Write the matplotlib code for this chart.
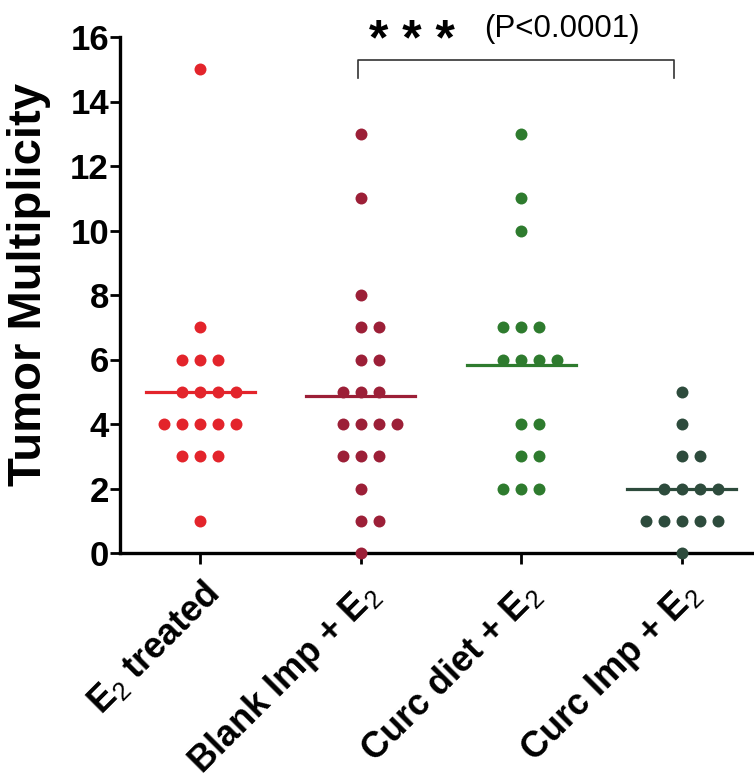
import numpy as np
import matplotlib.pyplot as plt
import matplotlib.transforms as mtransforms

plt.rcParams['font.family'] = ['Liberation Sans', 'DejaVu Sans']
plt.rcParams['mathtext.fontset'] = 'custom'
plt.rcParams['mathtext.rm'] = 'Liberation Sans'
plt.rcParams['mathtext.it'] = 'Liberation Sans'
plt.rcParams['mathtext.default'] = 'rm'

# data (tumors per animal)
GROUPS = ["E$_2$ treated", "Blank Imp + E$_2$", "Curc diet + E$_2$", "Curc Imp + E$_2$"]
e2_treated = [15, 7, 6, 6, 6, 5, 5, 5, 5, 4, 4, 4, 4, 4, 3, 3, 3, 1]
blank_imp = [13, 11, 8, 7, 7, 6, 6, 5, 5, 5, 4, 4, 4, 4, 3, 3, 3, 2, 1, 1, 0]
curc_diet = [13, 11, 10, 7, 7, 7, 6, 6, 6, 6, 4, 4, 3, 3, 2, 2, 2]
curc_imp = [5, 4, 3, 3, 2, 2, 2, 2, 1, 1, 1, 1, 1, 0]
COLORS = ["#e3242b", "#9c1f37", "#2e7b2e", "#2d4b3c"]

P_TEXT = "(P<0.0001)"

fig = plt.figure(figsize=(7.54, 7.81), dpi=100)
ax = fig.add_axes([120 / 754, 228 / 781, 642 / 754, 516 / 781])

spacing = 0.112
for i, (vals, col) in enumerate(zip([e2_treated, blank_imp, curc_diet, curc_imp], COLORS)):
    vals = np.array(vals)
    for v in np.unique(vals):
        n = np.sum(vals == v)
        offs = (np.arange(n) - (n - 1) // 2) * spacing
        ax.plot(i + offs, np.full(n, v), 'o', color=col, markersize=8.6,
                markeredgewidth=0, clip_on=False, zorder=3)
    m = vals.mean()
    ax.plot([i - 0.34, i + 0.34], [m, m], color=col, lw=2.3, zorder=2)

ax.set_xlim(-0.5, 3.5)
ax.set_ylim(0, 16)
ax.set_yticks(range(0, 17, 2))
ax.set_xticks(range(4))
ax.set_xticklabels(GROUPS, rotation=45, ha='right', rotation_mode='anchor',
                   fontsize=26, fontweight='bold')
shift = mtransforms.ScaledTranslation(-26 / 100, 0, fig.dpi_scale_trans)
for lab in ax.get_xticklabels():
    lab.set_transform(lab.get_transform() + shift)
for lab in ax.get_yticklabels():
    lab.set_fontweight('bold')
ax.tick_params(axis='y', labelsize=25, length=7, width=2, pad=1)
ax.tick_params(axis='x', length=8, width=2, pad=8)
for s in ['top', 'right']:
    ax.spines[s].set_visible(False)
for s in ['left', 'bottom']:
    ax.spines[s].set_linewidth(2.4)

ax.set_ylabel("Tumor Multiplicity", fontsize=34, fontweight='bold')
ax.yaxis.set_label_coords(-0.108, 0.52)

# significance bracket between group 2 and 4
ax.plot([0.98, 0.98, 2.95, 2.95], [14.73, 15.29, 15.29, 14.73], color='#333333',
        lw=1.2, clip_on=False)
ax.text(1.05, 15.85, "* * *", fontsize=36, fontweight='bold', ha='left', va='center',
        clip_on=False)
ax.text(1.77, 16.25, P_TEXT, fontsize=22.5, ha='left', va='center', clip_on=False)

fig.savefig("out.png", dpi=100)
